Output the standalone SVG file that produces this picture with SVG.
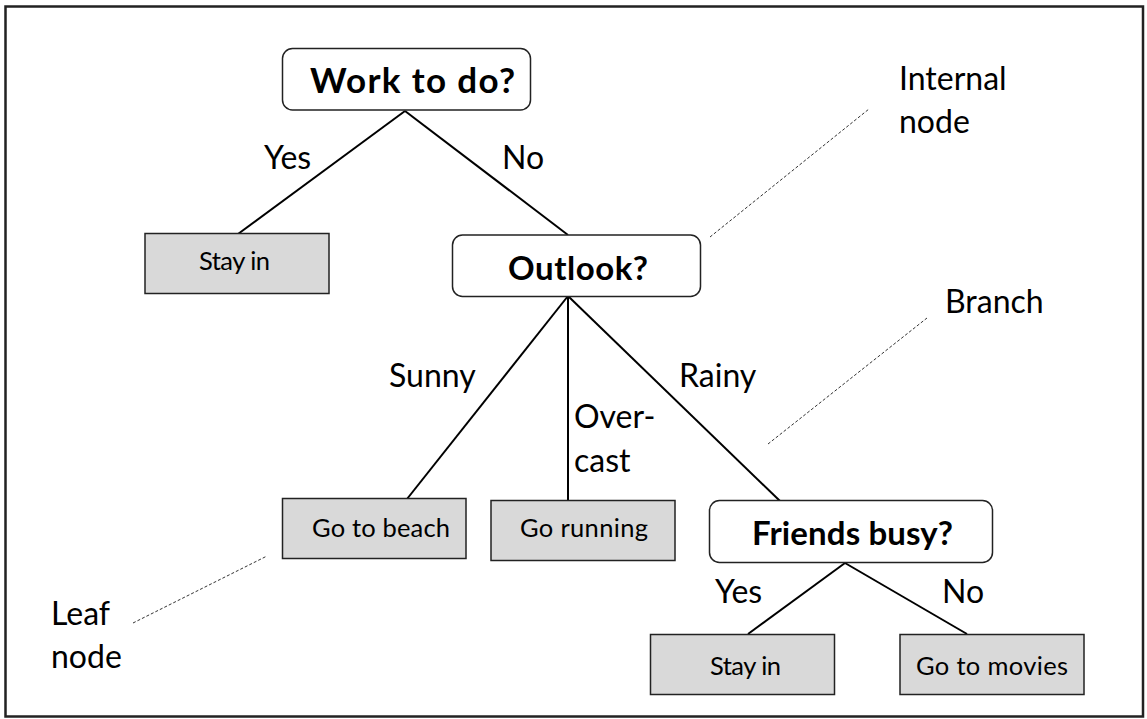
<svg xmlns="http://www.w3.org/2000/svg" width="1147" height="719" viewBox="0 0 1147 719">
<style>
.frame{fill:#fff;stroke:#222;stroke-width:2.5}
.dec{fill:#fff;stroke:#222;stroke-width:1.5}
.leaf{fill:#d9d9d9;stroke:#222;stroke-width:1.5}
.edge{stroke:#000;stroke-width:2;fill:none}
.dash{stroke:#333;stroke-width:1;stroke-dasharray:3 2;fill:none}
.t{font-family:Lato,"Open Sans",sans-serif;fill:#000}
.title{font-size:33px;font-weight:bold}
.leaft{font-size:25.5px}
.lab{font-size:32px}
</style>
<rect class="frame" x="5.5" y="6.5" width="1137.5" height="710"/>
<g id="connectors">
<line class="edge" x1="405" y1="111" x2="238" y2="234"/>
<line class="edge" x1="405" y1="111" x2="568" y2="235"/>
<line class="edge" x1="568" y1="296" x2="407" y2="499"/>
<line class="edge" x1="568" y1="296" x2="568" y2="501"/>
<line class="edge" x1="568" y1="296" x2="780" y2="501"/>
<line class="edge" x1="845" y1="563" x2="748" y2="634"/>
<line class="edge" x1="845" y1="563" x2="967" y2="634"/>
<line class="dash" x1="710" y1="237" x2="869" y2="109"/>
<line class="dash" x1="768" y1="444" x2="927" y2="318"/>
<line class="dash" x1="133" y1="623" x2="267" y2="556"/>
</g>
<g id="edge-labels">
<text class="t lab" x="264" y="169">Yes</text>
<text class="t lab" x="502" y="169">No</text>
<text class="t lab" x="389" y="387">Sunny</text>
<text class="t lab" x="574" y="428">Over-</text>
<text class="t lab" x="574" y="472">cast</text>
<text class="t lab" x="679" y="387">Rainy</text>
<text class="t lab" x="715" y="603">Yes</text>
<text class="t lab" x="942" y="603">No</text>
</g>
<g id="annotations">
<text class="t lab" x="899" y="90">Internal</text>
<text class="t lab" x="899" y="133">node</text>
<text class="t lab" x="945" y="313">Branch</text>
<text class="t lab" x="51" y="625">Leaf</text>
<text class="t lab" x="51" y="668">node</text>
</g>
<g id="n-work">
<rect class="dec" x="282.5" y="48.5" width="248" height="61.5" rx="10"/>
<text class="t title" x="310" y="93" textLength="205" style="font-size:35px">Work to do?</text>
</g>
<g id="n-stayin1">
<rect class="leaf" x="145" y="233.5" width="184" height="60"/>
<text class="t leaft" x="199" y="270" textLength="71">Stay in</text>
</g>
<g id="n-outlook">
<rect class="dec" x="452.5" y="235" width="248" height="61.5" rx="10"/>
<text class="t title" x="508" y="280" textLength="140">Outlook?</text>
</g>
<g id="n-beach">
<rect class="leaf" x="282.5" y="498.5" width="183.5" height="60"/>
<text class="t leaft" x="312" y="537" textLength="138">Go to beach</text>
</g>
<g id="n-running">
<rect class="leaf" x="491" y="500.5" width="184" height="60"/>
<text class="t leaft" x="520" y="537" textLength="128">Go running</text>
</g>
<g id="n-friends">
<rect class="dec" x="709.5" y="500.5" width="283" height="62" rx="10"/>
<text class="t title" x="752" y="545" textLength="201">Friends busy?</text>
</g>
<g id="n-stayin2">
<rect class="leaf" x="650.5" y="634.5" width="184" height="60"/>
<text class="t leaft" x="710" y="675" textLength="71">Stay in</text>
</g>
<g id="n-movies">
<rect class="leaf" x="900" y="634.5" width="184" height="60"/>
<text class="t leaft" x="916" y="675" textLength="152">Go to movies</text>
</g>
</svg>
